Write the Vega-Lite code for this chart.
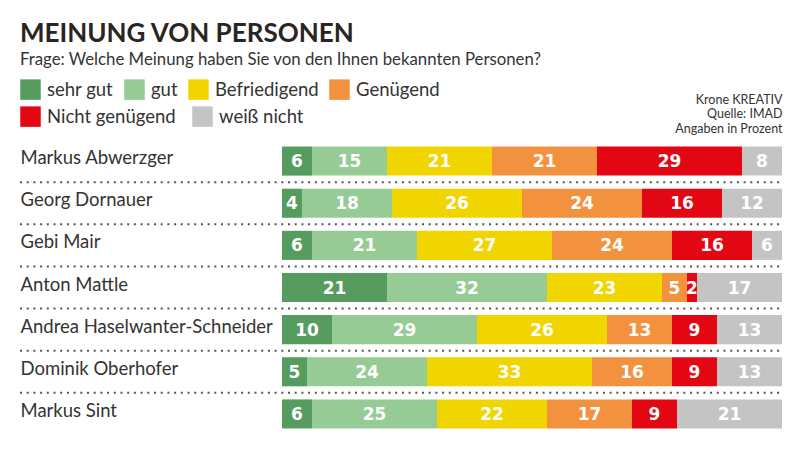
{
  "$schema": "https://vega.github.io/schema/vega-lite/v6.json",
  "width": 500,
  "height": 295,
  "autosize": {"type": "none"},
  "padding": {"left": 282, "top": 140, "right": 18, "bottom": 17},
  "background": "white",
  "title": {
    "text": "MEINUNG VON PERSONEN",
    "subtitle": "Frage: Welche Meinung haben Sie von den Ihnen bekannten Personen?",
    "anchor": "start",
    "frame": "group",
    "dx": -262,
    "font": "Lato",
    "fontSize": 26,
    "fontWeight": "bold",
    "color": "#2a2522",
    "subtitleFont": "Lato",
    "subtitleFontSize": 16.8,
    "subtitleColor": "#333333",
    "subtitlePadding": 5,
    "offset": 10
  },
  "data": {
    "values": [
      {"name": "Markus Abwerzger", "category": "sehr gut", "order": 1, "value": 6},
      {"name": "Markus Abwerzger", "category": "gut", "order": 2, "value": 15},
      {"name": "Markus Abwerzger", "category": "Befriedigend", "order": 3, "value": 21},
      {"name": "Markus Abwerzger", "category": "Genügend", "order": 4, "value": 21},
      {"name": "Markus Abwerzger", "category": "Nicht genügend", "order": 5, "value": 29},
      {"name": "Markus Abwerzger", "category": "weiß nicht", "order": 6, "value": 8},
      {"name": "Georg Dornauer", "category": "sehr gut", "order": 1, "value": 4},
      {"name": "Georg Dornauer", "category": "gut", "order": 2, "value": 18},
      {"name": "Georg Dornauer", "category": "Befriedigend", "order": 3, "value": 26},
      {"name": "Georg Dornauer", "category": "Genügend", "order": 4, "value": 24},
      {"name": "Georg Dornauer", "category": "Nicht genügend", "order": 5, "value": 16},
      {"name": "Georg Dornauer", "category": "weiß nicht", "order": 6, "value": 12},
      {"name": "Gebi Mair", "category": "sehr gut", "order": 1, "value": 6},
      {"name": "Gebi Mair", "category": "gut", "order": 2, "value": 21},
      {"name": "Gebi Mair", "category": "Befriedigend", "order": 3, "value": 27},
      {"name": "Gebi Mair", "category": "Genügend", "order": 4, "value": 24},
      {"name": "Gebi Mair", "category": "Nicht genügend", "order": 5, "value": 16},
      {"name": "Gebi Mair", "category": "weiß nicht", "order": 6, "value": 6},
      {"name": "Anton Mattle", "category": "sehr gut", "order": 1, "value": 21},
      {"name": "Anton Mattle", "category": "gut", "order": 2, "value": 32},
      {"name": "Anton Mattle", "category": "Befriedigend", "order": 3, "value": 23},
      {"name": "Anton Mattle", "category": "Genügend", "order": 4, "value": 5},
      {"name": "Anton Mattle", "category": "Nicht genügend", "order": 5, "value": 2},
      {"name": "Anton Mattle", "category": "weiß nicht", "order": 6, "value": 17},
      {"name": "Andrea Haselwanter-Schneider", "category": "sehr gut", "order": 1, "value": 10},
      {"name": "Andrea Haselwanter-Schneider", "category": "gut", "order": 2, "value": 29},
      {"name": "Andrea Haselwanter-Schneider", "category": "Befriedigend", "order": 3, "value": 26},
      {"name": "Andrea Haselwanter-Schneider", "category": "Genügend", "order": 4, "value": 13},
      {"name": "Andrea Haselwanter-Schneider", "category": "Nicht genügend", "order": 5, "value": 9},
      {"name": "Andrea Haselwanter-Schneider", "category": "weiß nicht", "order": 6, "value": 13},
      {"name": "Dominik Oberhofer", "category": "sehr gut", "order": 1, "value": 5},
      {"name": "Dominik Oberhofer", "category": "gut", "order": 2, "value": 24},
      {"name": "Dominik Oberhofer", "category": "Befriedigend", "order": 3, "value": 33},
      {"name": "Dominik Oberhofer", "category": "Genügend", "order": 4, "value": 16},
      {"name": "Dominik Oberhofer", "category": "Nicht genügend", "order": 5, "value": 9},
      {"name": "Dominik Oberhofer", "category": "weiß nicht", "order": 6, "value": 13},
      {"name": "Markus Sint", "category": "sehr gut", "order": 1, "value": 6},
      {"name": "Markus Sint", "category": "gut", "order": 2, "value": 25},
      {"name": "Markus Sint", "category": "Befriedigend", "order": 3, "value": 22},
      {"name": "Markus Sint", "category": "Genügend", "order": 4, "value": 17},
      {"name": "Markus Sint", "category": "Nicht genügend", "order": 5, "value": 9},
      {"name": "Markus Sint", "category": "weiß nicht", "order": 6, "value": 21}
    ]
  },
  "layer": [
    {
      "transform": [
        {"stack": "value", "groupby": ["name"], "sort": [{"field": "order", "order": "ascending"}], "as": ["x0", "x1"]},
        {"filter": "datum.order <= 4"}
      ],
      "mark": {"type": "bar", "strokeWidth": 0},
      "encoding": {
        "y": {
          "field": "name", "type": "nominal",
          "scale": {"domain": ["Markus Abwerzger", "Georg Dornauer", "Gebi Mair", "Anton Mattle", "Andrea Haselwanter-Schneider", "Dominik Oberhofer", "Markus Sint"], "paddingInner": 0.31, "paddingOuter": 0.155},
          "axis": {"title": null, "orient": "left", "domain": false, "ticks": false, "labelAlign": "left", "labelBaseline": "middle", "labelPadding": 262, "labelLimit": 300, "labelFont": "Lato", "labelFontSize": 18.5, "labelColor": "#333333", "labelOffset": -3}
        },
        "x": {
          "field": "x0", "type": "quantitative",
          "scale": {"domain": [0, 100], "nice": false},
          "axis": {"orient": "top", "title": ["Krone KREATIV", "Quelle: IMAD", "Angaben in Prozent"], "labels": false, "ticks": false, "domain": false, "grid": false, "titleAnchor": "end", "titleAlign": "right", "titleFont": "Lato", "titleFontSize": 12.5, "titleFontWeight": "normal", "titleColor": "#333333", "titleLineHeight": 14.5, "titlePadding": 5}
        },
        "x2": {"field": "x1"},
        "fill": {
          "field": "category", "type": "nominal",
          "scale": {"domain": ["sehr gut", "gut", "Befriedigend", "Genügend"], "range": ["#559c5e", "#96cb96", "#f1d500", "#f2923f"]},
          "legend": {"title": null, "orient": "none", "legendX": -262, "legendY": -61, "direction": "horizontal", "padding": 0, "symbolType": "square", "symbolSize": 420, "symbolStrokeWidth": 0, "symbolOpacity": 1, "labelFont": "Lato", "labelFontSize": 18.5, "labelColor": "#333333", "labelOffset": 6, "columnPadding": 10, "labelLimit": 300}
        }
      }
    },
    {
      "transform": [
        {"stack": "value", "groupby": ["name"], "sort": [{"field": "order", "order": "ascending"}], "as": ["x0", "x1"]},
        {"filter": "datum.order >= 5"}
      ],
      "mark": {"type": "bar", "strokeWidth": 0},
      "encoding": {
        "y": {"field": "name", "type": "nominal"},
        "x": {"field": "x0", "type": "quantitative"},
        "x2": {"field": "x1"},
        "color": {
          "field": "category", "type": "nominal",
          "scale": {"domain": ["Nicht genügend", "weiß nicht"], "range": ["#e30613", "#c4c4c4"]},
          "legend": {"title": null, "orient": "none", "legendX": -262, "legendY": -34, "direction": "horizontal", "padding": 0, "symbolType": "square", "symbolSize": 420, "symbolStrokeWidth": 0, "symbolOpacity": 1, "labelFont": "Lato", "labelFontSize": 18.5, "labelColor": "#333333", "labelOffset": 6, "columnPadding": 16, "labelLimit": 300}
        }
      }
    },
    {
      "transform": [
        {"stack": "value", "groupby": ["name"], "sort": [{"field": "order", "order": "ascending"}], "as": ["x0", "x1"]},
        {"calculate": "(datum.x0 + datum.x1) / 2", "as": "xmid"}
      ],
      "mark": {"type": "text", "font": "DejaVu Sans", "fontWeight": "bold", "fontSize": 17, "color": "white", "baseline": "middle", "align": "center", "dy": 1},
      "encoding": {
        "y": {"field": "name", "type": "nominal"},
        "x": {"field": "xmid", "type": "quantitative"},
        "text": {"field": "value", "type": "quantitative"}
      }
    },
    {
      "data": {
        "values": [
          {"name": "Markus Abwerzger"},
          {"name": "Georg Dornauer"},
          {"name": "Gebi Mair"},
          {"name": "Anton Mattle"},
          {"name": "Andrea Haselwanter-Schneider"},
          {"name": "Dominik Oberhofer"}
        ]
      },
      "mark": {"type": "rule", "yOffset": 21.07, "xOffset": -262, "strokeDash": [2, 4.7], "strokeWidth": 2, "color": "#555555"},
      "encoding": {
        "y": {"field": "name", "type": "nominal"},
        "x": {"datum": 0},
        "x2": {"datum": 100}
      }
    }
  ],
  "config": {
    "view": {"stroke": null}
  }
}
